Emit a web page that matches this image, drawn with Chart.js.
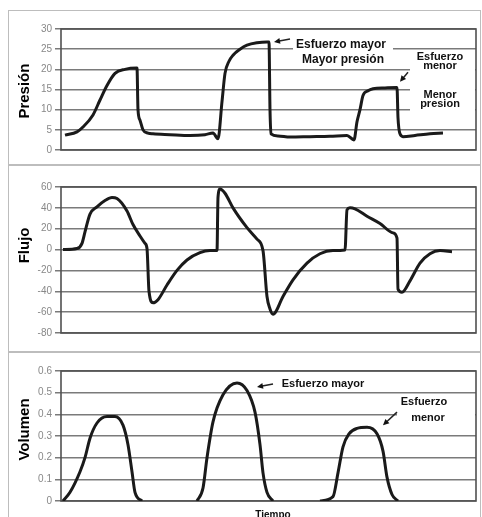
<!DOCTYPE html>
<html>
<head>
<meta charset="utf-8">
<script src="https://cdn.jsdelivr.net/npm/chart.js@4.4.1/dist/chart.umd.min.js"></script>
<style>
  body { margin: 0; background: #fff; width: 482px; height: 517px; overflow: hidden; position: relative; }
  canvas { position: absolute; left: 8px; }
</style>
</head>
<body>
<canvas id="presionChart" width="473" height="155" style="top:10px"></canvas>
<canvas id="flujoChart" width="473" height="187" style="top:165px"></canvas>
<canvas id="volumenChart" width="473" height="165" style="top:352px"></canvas>
<script>
// Tiempo (unidades arbitrarias) y valores
const presionT = [4, 16, 22, 32, 39, 46, 54, 64, 76, 77, 79, 82, 87, 92, 109, 129, 144, 152, 157, 161, 164, 168, 172, 179, 186, 196, 206, 208, 209, 210, 217, 229, 249, 269, 286, 293, 296, 299, 302, 307, 312, 324, 336, 337, 339, 342, 354, 369, 382];
const presionV = [3.7, 4.5, 5.7, 8.7, 12.4, 16, 19, 20, 20.3, 10, 7.4, 5, 4.2, 4, 3.8, 3.6, 3.8, 4.2, 2.8, 12, 19, 22, 23.5, 25, 26, 26.6, 26.8, 26.8, 10, 4, 3.5, 3.2, 3.3, 3.4, 3.6, 2.5, 7, 10, 13.5, 14.7, 15.2, 15.4, 15.5, 8, 4, 3.3, 3.6, 4, 4.2];

const flujoT = [2, 16, 21, 24, 29, 36, 44, 51, 56, 66, 72, 79, 84, 86, 88, 92, 97, 106, 116, 126, 139, 149, 156, 157, 159, 164, 172, 186, 196, 202, 206, 209, 212, 222, 232, 246, 259, 272, 284, 286, 289, 294, 306, 319, 332, 336, 337, 341, 349, 359, 369, 379, 391];
const flujoV = [0, 1, 6, 17, 34, 41, 47, 50, 49, 37, 24, 13, 6, 1, -40, -51, -48, -34, -20, -10, -3, -1, -1, 50, 58, 54, 40, 21, 10, -1, -45, -57, -62, -45, -29, -13, -4, -1, -0.5, 38, 40, 39, 32, 25, 16, 11, -38, -41, -30, -13, -4, -1, -2];

const volumenT = [2, 9, 19, 24, 29, 36, 46, 54, 62, 67, 71, 74, 81, 100, 136, 142, 146, 152, 162, 176, 186, 194, 199, 202, 206, 212, 230, 259, 272, 277, 282, 288, 296, 306, 316, 322, 326, 331, 337];
const volumenV = [0, 0.04, 0.135, 0.2, 0.29, 0.36, 0.39, 0.39, 0.35, 0.26, 0.135, 0.04, 0, null, 0, 0.06, 0.2, 0.365, 0.49, 0.545, 0.51, 0.41, 0.26, 0.13, 0.04, 0, null, 0, 0.02, 0.13, 0.25, 0.31, 0.335, 0.34, 0.31, 0.23, 0.11, 0.03, 0];

const presionTicks = [0, 5, 10, 15, 20, 25, 30];
const flujoTicks = [-80, -60, -40, -20, 0, 20, 40, 60];
const volumenTicks = [0, 0.1, 0.2, 0.3, 0.4, 0.5, 0.6];

const FONT = 'Arial, "Liberation Sans", sans-serif';

function points(ts, vs) {
    return ts.map((t, i) => ({ x: t, y: vs[i] }));
}

// marco del gráfico, cajas blancas, flechas y textos
const panelPlugin = {
    id: 'panel',
    beforeDraw(chart, args, opts) {
        const { ctx, width, height } = chart;
        ctx.save();
        ctx.fillStyle = '#fff';
        ctx.fillRect(0, 0, width, height);
        ctx.strokeStyle = '#bdbdbd';
        ctx.lineWidth = 1;
        ctx.strokeRect(0.5, 0.5, width - 1, opts.openBottom ? height + 5 : height - 1);
        ctx.restore();
    },
    beforeDatasetsDraw(chart, args, opts) {
        const { ctx, chartArea: a, scales: { x, y } } = chart;
        ctx.save();
        ctx.fillStyle = '#fff';
        (opts.boxes || []).forEach(b => {
            const x1 = x.getPixelForValue(b[0]), x2 = Math.min(x.getPixelForValue(b[1]), a.right - 1);
            const y1 = y.getPixelForValue(b[2]), y2 = y.getPixelForValue(b[3]);
            ctx.fillRect(x1, y1, x2 - x1, y2 - y1);
        });
        ctx.strokeStyle = '#505050';
        ctx.lineWidth = 1.6;
        ctx.strokeRect(a.left, a.top, a.right - a.left, a.bottom - a.top);
        ctx.restore();
    },
    afterDatasetsDraw(chart, args, opts) {
        const { ctx, chartArea: a, scales: { x, y } } = chart;
        ctx.save();
        ctx.fillStyle = '#111';
        ctx.strokeStyle = '#222';
        ctx.lineWidth = 1.5;
        (opts.arrows || []).forEach(r => {
            const x1 = x.getPixelForValue(r[0]), y1 = y.getPixelForValue(r[1]);
            const x2 = x.getPixelForValue(r[2]), y2 = y.getPixelForValue(r[3]);
            const ang = Math.atan2(y2 - y1, x2 - x1);
            ctx.beginPath();
            ctx.moveTo(x1, y1);
            ctx.lineTo(x2 - 4 * Math.cos(ang), y2 - 4 * Math.sin(ang));
            ctx.stroke();
            ctx.beginPath();
            ctx.moveTo(x2, y2);
            ctx.lineTo(x2 - 6 * Math.cos(ang) + 3 * Math.sin(ang), y2 - 6 * Math.sin(ang) - 3 * Math.cos(ang));
            ctx.lineTo(x2 - 6 * Math.cos(ang) - 3 * Math.sin(ang), y2 - 6 * Math.sin(ang) + 3 * Math.cos(ang));
            ctx.closePath();
            ctx.fill();
        });
        ctx.textAlign = 'center';
        ctx.textBaseline = 'middle';
        (opts.notes || []).forEach(n => {
            ctx.font = 'bold ' + n.size + 'px ' + FONT;
            const px = x.getPixelForValue(n.t);
            const py = n.v === null ? a.bottom + 14 : y.getPixelForValue(n.v);
            ctx.fillText(n.text, px, py);
        });
        // título del eje
        ctx.translate(17, y.getPixelForValue(opts.titleV));
        ctx.rotate(-Math.PI / 2);
        ctx.font = 'bold 15px ' + FONT;
        ctx.fillStyle = '#000';
        ctx.fillText(opts.title, 0, 0);
        ctx.restore();
    }
};

function makePanel(id, ts, vs, ticks, pad, panel) {
    const ctx = document.getElementById(id).getContext('2d');
    return new Chart(ctx, {
        type: 'line',
        data: {
            datasets: [{
                data: points(ts, vs),
                borderColor: '#1a1a1a',
                borderWidth: 3,
                pointRadius: 0,
                fill: false,
                spanGaps: false,
                cubicInterpolationMode: 'monotone'
            }]
        },
        options: {
            responsive: false,
            animation: false,
            devicePixelRatio: 1,
            layout: { padding: pad },
            plugins: { legend: { display: false }, tooltip: { enabled: false }, panel: panel },
            scales: {
                x: { type: 'linear', min: 0, max: 415, display: false },
                y: {
                    min: ticks[0],
                    max: ticks[ticks.length - 1],
                    afterBuildTicks: s => { s.ticks = ticks.map(v => ({ value: v })); },
                    afterFit: s => { s.width = 53; },
                    ticks: { color: '#888', font: { family: FONT, size: 10 }, padding: 3 },
                    grid: { color: '#7a7a7a', lineWidth: 1.5, tickLength: 6, drawTicks: true },
                    border: { display: false }
                }
            }
        },
        plugins: [panelPlugin]
    });
}

makePanel('presionChart', presionT, presionV, presionTicks,
    { top: 19, right: 5, bottom: 15, left: 0 },
    {
        title: 'Presión', titleV: 14.6,
        boxes: [[232, 332, 29, 20.6], [349, 420, 24.8, 7.9]],
        arrows: [[229, 27.5, 213, 26.8], [347, 19.3, 339, 16.9]],
        notes: [
            { text: 'Esfuerzo mayor', t: 280, v: 26, size: 12 },
            { text: 'Mayor presión', t: 282, v: 22.3, size: 12 },
            { text: 'Esfuerzo', t: 379, v: 23, size: 11 },
            { text: 'menor', t: 379, v: 20.8, size: 11 },
            { text: 'Menor', t: 379, v: 13.6, size: 11 },
            { text: 'presion', t: 379, v: 11.4, size: 11 }
        ]
    });

makePanel('flujoChart', flujoT, flujoV, flujoTicks,
    { top: 22, right: 5, bottom: 19, left: 0 },
    { title: 'Flujo', titleV: 4 });

makePanel('volumenChart', volumenT, volumenV, volumenTicks,
    { top: 19, right: 5, bottom: 16, left: 0 },
    {
        title: 'Volumen', titleV: 0.33, openBottom: true,
        boxes: [[336, 420, 0.475, 0.33]],
        arrows: [[212, 0.54, 196, 0.526], [336, 0.41, 322, 0.35]],
        notes: [
            { text: 'Esfuerzo mayor', t: 262, v: 0.54, size: 11 },
            { text: 'Esfuerzo', t: 363, v: 0.457, size: 11 },
            { text: 'menor', t: 367, v: 0.383, size: 11 },
            { text: 'Tiempo', t: 212, v: null, size: 10 }
        ]
    });
</script>
</body>
</html>
